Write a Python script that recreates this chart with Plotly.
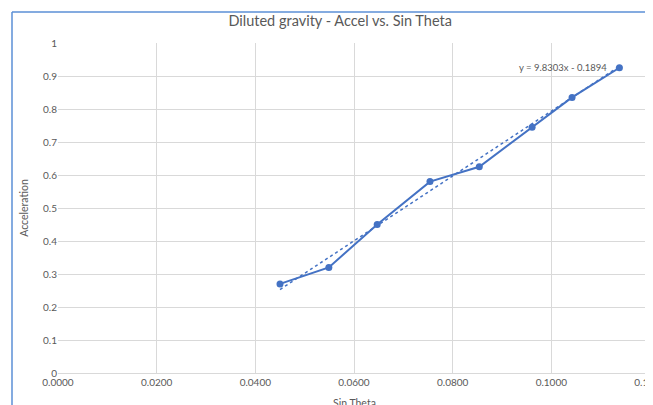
import plotly.graph_objects as go

sin_theta = [0.0450, 0.0549, 0.0647, 0.0754, 0.0854, 0.0961, 0.1042, 0.1138]
acceleration = [0.27, 0.32, 0.45, 0.58, 0.625, 0.745, 0.835, 0.925]
slope = 9.8303
intercept = -0.1894
x_ticks = [0.0, 0.02, 0.04, 0.06, 0.08, 0.10, 0.12]
y_ticks = [0, 0.1, 0.2, 0.3, 0.4, 0.5, 0.6, 0.7, 0.8, 0.9, 1]

blue = "#4472C4"
grey_text = "#595959"
grid = "#D9D9D9"
font_family = "Lato, 'Open Sans', sans-serif"

trend_x = [min(sin_theta), max(sin_theta)]
trend_y = [slope * v + intercept for v in trend_x]

fig = go.Figure()
fig.add_trace(go.Scatter(
    x=trend_x, y=trend_y, mode="lines",
    line=dict(color=blue, width=1.5, dash="dot"),
    showlegend=False, hoverinfo="skip"))
fig.add_trace(go.Scatter(
    x=sin_theta, y=acceleration, mode="lines+markers",
    line=dict(color=blue, width=2),
    marker=dict(color=blue, size=7),
    showlegend=False))

fig.add_annotation(
    x=0.1023, y=0.927, xref="x", yref="y",
    text="y = 9.8303x - 0.1894", showarrow=False,
    font=dict(size=9.5, color=grey_text, family=font_family))

# x-axis title (partly cut off at the bottom, as in the reference)
fig.add_annotation(
    x=0.5, y=-0.092, xref="paper", yref="paper",
    text="Sin Theta", showarrow=False, yanchor="middle",
    font=dict(size=10.5, color=grey_text, family=font_family))

# selection border (top and left)
fig.add_shape(type="line", xref="paper", yref="paper",
              x0=-0.0777, x1=-0.0777, y0=-0.3, y1=1.0939,
              line=dict(color="#5B8FD6", width=1.5))
fig.add_shape(type="line", xref="paper", yref="paper",
              x0=-0.0777, x1=1.1, y0=1.0939, y1=1.0939,
              line=dict(color="#5B8FD6", width=1.5))

fig.update_layout(
    width=645, height=397,
    margin=dict(l=50, r=3, t=35, b=32),
    paper_bgcolor="white", plot_bgcolor="white",
    font=dict(family=font_family, color=grey_text, size=10),
    title=dict(text="Diluted gravity - Accel vs. Sin Theta",
               x=0.515, xanchor="center", y=0.967, yanchor="middle",
               font=dict(size=14.5, color=grey_text, family=font_family)),
    xaxis=dict(range=[0, 0.12], tickvals=x_ticks, tickformat=".4f",
               ticklabeloverflow="allow", automargin=False,
               showgrid=True, gridcolor=grid, gridwidth=1,
               zeroline=False, showline=True, linecolor=grid,
               ticks="", tickfont=dict(size=10, color=grey_text)),
    yaxis=dict(range=[0, 1], tickvals=y_ticks, automargin=False,
               showgrid=True, gridcolor=grid, gridwidth=1,
               zeroline=False, showline=False,
               ticks="", tickfont=dict(size=10, color=grey_text),
               title=dict(text="Acceleration", font=dict(size=10.5, color=grey_text), standoff=12)),
)

fig.write_html("out.html")
